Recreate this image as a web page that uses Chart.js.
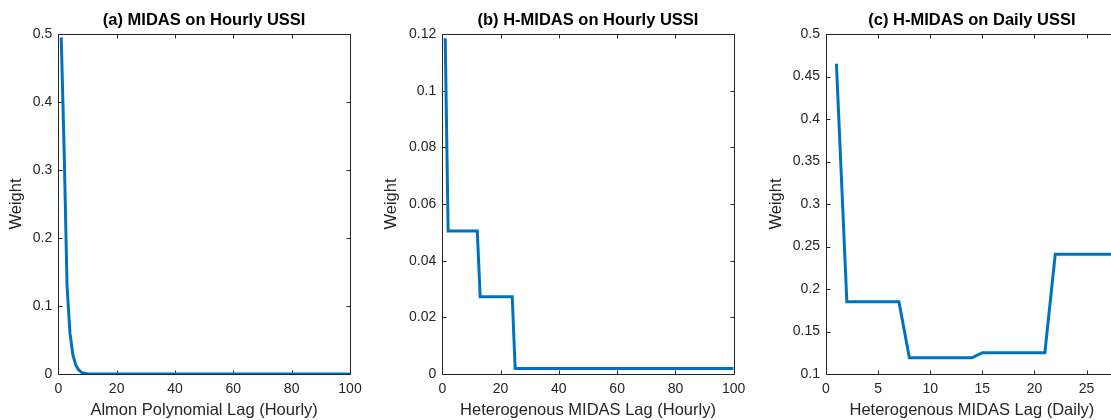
<!DOCTYPE html>
<html>
<head>
<meta charset="utf-8">
<script src="https://cdn.jsdelivr.net/npm/chart.js@4.4.1/dist/chart.umd.min.js"></script>
<style>
html, body { margin: 0; padding: 0; background: #fff; overflow: hidden; width: 1111px; height: 420px; position: relative; }
.panel { position: absolute; top: 0; width: 400px; height: 420px; }
</style>
</head>
<body>
<div class="panel" style="left:0px"><canvas id="chartA" width="400" height="420"></canvas></div>
<div class="panel" style="left:370px"><canvas id="chartB" width="400" height="420"></canvas></div>
<div class="panel" style="left:740px"><canvas id="chartC" width="400" height="420"></canvas></div>
<script>
// (a) Almon polynomial weights, hourly lags (zero from lag 13 up to 100)
const lagA = [1, 2, 3, 4, 5, 6, 7, 8, 9, 10, 11, 12, 13, 100];
const weightA = [0.495, 0.33, 0.13, 0.06, 0.028, 0.013, 0.006, 0.0025, 0.001, 0.0004, 0.00015, 0.00005, 0, 0];

// (b) H-MIDAS step weights, hourly lags (breakpoints of the steps)
const lagB = [1, 2, 12, 13, 24, 25, 100];
const weightB = [0.1185, 0.0505, 0.0505, 0.0273, 0.0273, 0.0019, 0.0019];

// (c) H-MIDAS weights, daily lags 1..28
const lagC = [1, 2, 3, 4, 5, 6, 7, 8, 9, 10, 11, 12, 13, 14, 15, 16, 17, 18, 19, 20, 21, 22, 23, 24, 25, 26, 27, 28];
const weightC = [0.465, 0.185, 0.185, 0.185, 0.185, 0.185, 0.185,
  0.119, 0.119, 0.119, 0.119, 0.119, 0.119, 0.119,
  0.125, 0.125, 0.125, 0.125, 0.125, 0.125, 0.125,
  0.241, 0.241, 0.241, 0.241, 0.241, 0.241, 0.241];

const titles = ['(a) MIDAS on Hourly USSI', '(b) H-MIDAS on Hourly USSI', '(c) H-MIDAS on Daily USSI'];
const xLabels = ['Almon Polynomial Lag (Hourly)', 'Heterogenous MIDAS Lag (Hourly)', 'Heterogenous MIDAS Lag (Daily)'];
const yLabel = 'Weight';

const FONT = "'Liberation Sans', Arial, Helvetica, sans-serif";
const AXIS = '#262626';

// box around the axes with inward ticks on all four sides, like matlab
const matlabBox = {
  id: 'matlabBox',
  beforeDatasetsDraw(chart) {
    const { ctx, chartArea: a, scales } = chart;
    const L = Math.round(a.left) + 0.5, R = Math.round(a.right) + 0.5;
    const T = Math.round(a.top) + 0.5, B = Math.round(a.bottom) + 0.5;
    ctx.save();
    ctx.strokeStyle = AXIS;
    ctx.lineWidth = 1;
    ctx.beginPath();
    ctx.rect(L, T, R - L, B - T);
    scales.x.ticks.forEach(t => {
      const px = Math.round(scales.x.getPixelForValue(t.value)) + 0.5;
      ctx.moveTo(px, B); ctx.lineTo(px, B - 4);
      ctx.moveTo(px, T); ctx.lineTo(px, T + 4);
    });
    scales.y.ticks.forEach(t => {
      const py = Math.round(scales.y.getPixelForValue(t.value)) + 0.5;
      ctx.moveTo(L, py); ctx.lineTo(L + 4, py);
      ctx.moveTo(R, py); ctx.lineTo(R - 4, py);
    });
    ctx.stroke();
    ctx.restore();
  }
};

function makeChart(id, lags, weights, opts) {
  const pts = lags.map((l, i) => ({ x: l, y: weights[i] }));
  return new Chart(document.getElementById(id), {
    type: 'line',
    data: {
      datasets: [{
        data: pts,
        borderColor: '#0072BD',
        borderWidth: 3,
        pointRadius: 0,
        tension: 0,
        fill: false
      }]
    },
    options: {
      responsive: false,
      animation: false,
      layout: { padding: { left: 0, right: opts.padRight, top: 0, bottom: 0 } },
      plugins: {
        legend: { display: false },
        tooltip: { enabled: false },
        title: {
          display: true,
          text: opts.title,
          fullSize: false,
          color: '#000',
          font: { family: FONT, size: 16.5, weight: 'bold', lineHeight: 1.2 },
          padding: { top: 10.6, bottom: 3.6 }
        }
      },
      scales: {
        x: {
          type: 'linear',
          min: 0,
          max: opts.xMax,
          grid: { display: false, drawTicks: false },
          border: { display: false },
          ticks: {
            stepSize: opts.xStep,
            includeBounds: false,
            maxRotation: 0,
            autoSkip: false,
            padding: 7,
            color: AXIS,
            font: { family: FONT, size: 14, lineHeight: 1.2 }
          },
          title: {
            display: true,
            text: opts.xLabel,
            color: AXIS,
            font: { family: FONT, size: 16.5, lineHeight: 1.2 },
            padding: { top: 0, bottom: 0 }
          },
          afterFit: s => { s.height = 46; }
        },
        y: {
          type: 'linear',
          min: opts.yMin,
          max: opts.yMax,
          grid: { display: false, drawTicks: false },
          border: { display: false },
          ticks: {
            stepSize: opts.yStep,
            autoSkip: false,
            padding: 6,
            color: AXIS,
            font: { family: FONT, size: 14, lineHeight: 1.2 },
            callback: v => String(+v.toFixed(4))
          },
          title: {
            display: true,
            text: yLabel,
            color: AXIS,
            font: { family: FONT, size: 16.5, lineHeight: 1.2 },
            padding: { top: opts.yTitlePad, bottom: 0 }
          },
          afterFit: s => { s.width = opts.yWidth; }
        }
      }
    },
    plugins: [matlabBox]
  });
}

makeChart('chartA', lagA, weightA, {
  title: titles[0], xLabel: xLabels[0],
  xMax: 100, xStep: 20, yMin: 0, yMax: 0.5, yStep: 0.1,
  yWidth: 58.3, padRight: 50, yTitlePad: 6.8
});
makeChart('chartB', lagB, weightB, {
  title: titles[1], xLabel: xLabels[1],
  xMax: 100, xStep: 20, yMin: 0, yMax: 0.12, yStep: 0.02,
  yWidth: 72.3, padRight: 36.3, yTitlePad: 11.8
});
makeChart('chartC', lagC, weightC, {
  title: titles[2], xLabel: xLabels[2],
  xMax: 28, xStep: 5, yMin: 0.1, yMax: 0.5, yStep: 0.05,
  yWidth: 86, padRight: 22.2, yTitlePad: 26.1
});
</script>
</body>
</html>
